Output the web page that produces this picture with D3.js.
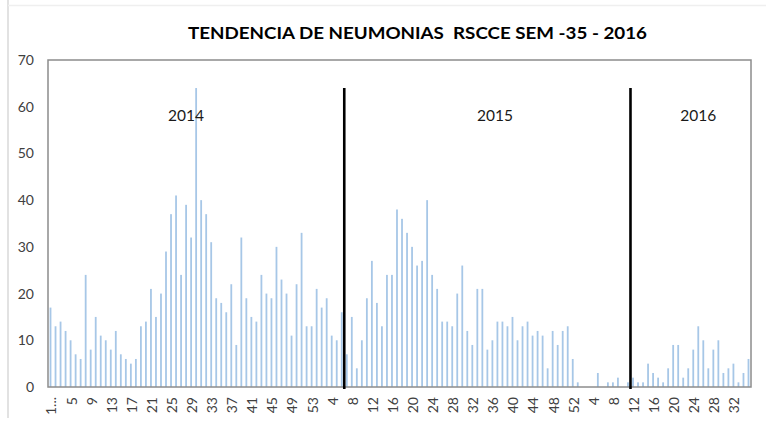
<!DOCTYPE html>
<html>
<head>
<meta charset="utf-8">
<script src="https://cdn.jsdelivr.net/npm/d3@7"></script>
<style>
  html, body { margin: 0; padding: 0; background: #fff; }
  svg { display: block; }
  text { white-space: pre; }
</style>
</head>
<body>
<svg id="chart" width="766" height="423"></svg>
<script>
// ---- Data ----
const title = "TENDENCIA DE NEUMONIAS  RSCCE SEM -35 - 2016";
const years = ["2014", "2015", "2016"];
const values2014 = [17,13,14,12,10,7,6,24,8,15, 11,10,8,12,7,6,5,6,13,14,
                    21,15,20,29,37,41,24,39,32,64, 40,37,31,19,18,16,22,9,32,19,
                    15,14,24,20,19,30,23,20,11,22, 33,13,13];
const values2015 = [21,17,19,11,10,16,7,15,4,10, 19,27,18,13,24,24,38,36,33,30,
                    26,27,40,24,21,14,14,13,20,26, 12,9,21,21,8,10,14,14,13,15,
                    10,13,14,11,12,11,4,12,9,12, 13,6];
const values2016 = [1,0,0,0,3,0,1,1,2,0, 1,2,1,1,5,3,2,1,4,9,
                    9,2,4,8,13,10,4,8,10,3, 4,5,1,3,6];
const yTicks = [0,10,20,30,40,50,60,70];
const firstTickLabel = "1...";
// year annotations placed at a week of the category axis
const yearLabels = [
  { text: "2014", year: "2014", week: 28 },
  { text: "2015", year: "2015", week: 36.5 },
  { text: "2016", year: "2016", week: 25 }
];
// separator lines drawn before these weeks, up to this value
const separators = [
  { year: "2015", week: 7, top: 64 },
  { year: "2016", week: 12, top: 64 }
];

// ---- Build rows ----
const rows = [];
[[years[0], values2014], [years[1], values2015], [years[2], values2016]].forEach(([yr, vals]) => {
  vals.forEach((v, i) => rows.push({ id: yr + "-" + (i + 1), year: yr, week: i + 1, value: v }));
});

// ---- Layout ----
const FONT = "Lato, 'Open Sans', sans-serif";
const svg = d3.select("#chart");
const W = 766, H = 423;
const plot = { left: 48, right: 751, top: 60, bottom: 387 };

const x = d3.scaleBand().domain(rows.map(d => d.id)).range([plot.left, plot.right]).padding(0);
const y = d3.scaleLinear().domain([0, 70]).range([plot.bottom, plot.top]);

// outer faint frame
svg.append("line").attr("x1", 8).attr("x2", 8).attr("y1", 0).attr("y2", 418)
  .attr("stroke", "#e2e2e2").attr("stroke-width", 2);
svg.append("line").attr("x1", 8).attr("x2", W).attr("y1", 5.5).attr("y2", 5.5)
  .attr("stroke", "#efefef").attr("stroke-width", 1.5);

// title
svg.append("text")
  .attr("x", 417.5).attr("y", 38.5)
  .attr("text-anchor", "middle")
  .attr("font-family", FONT)
  .attr("font-weight", "bold")
  .attr("font-size", 17.5)
  .attr("fill", "#000")
  .attr("textLength", 459)
  .attr("lengthAdjust", "spacingAndGlyphs")
  .text(title);

// bars
const barW = 1.8;
svg.append("g").selectAll("rect").data(rows.filter(d => d.value > 0)).join("rect")
  .attr("x", d => x(d.id) + x.bandwidth() / 2 - barW / 2)
  .attr("y", d => y(d.value))
  .attr("width", barW)
  .attr("height", d => y(0) - y(d.value))
  .attr("fill", "#a7c7e7");

// plot frame
svg.append("rect")
  .attr("x", plot.left).attr("y", plot.top)
  .attr("width", plot.right - plot.left).attr("height", plot.bottom - plot.top)
  .attr("fill", "none").attr("stroke", "#8c8c8c").attr("stroke-width", 1.5);

// y axis labels
const yAxis = d3.axisLeft(y).tickValues(yTicks).tickSize(0).tickPadding(14);
const gy = svg.append("g").attr("transform", `translate(${plot.left},0)`).call(yAxis);
gy.select(".domain").remove();
gy.selectAll("text")
  .attr("font-family", FONT)
  .attr("font-size", 14)
  .attr("fill", "#404040");

// x axis labels (every 4th category), rotated
const tickIds = rows.filter((d, i) => i % 4 === 0).map(d => d.id);
const byId = new Map(rows.map(d => [d.id, d]));
const xAxis = d3.axisBottom(x).tickValues(tickIds).tickSize(0)
  .tickFormat(id => id === rows[0].id ? firstTickLabel : String(byId.get(id).week));
const gx = svg.append("g").attr("transform", `translate(0,${plot.bottom})`).call(xAxis);
gx.select(".domain").remove();
gx.selectAll("text")
  .attr("font-family", FONT)
  .attr("font-size", 14)
  .attr("fill", "#404040")
  .attr("text-anchor", "end")
  .attr("transform", "rotate(-90)")
  .attr("x", -10)
  .attr("y", 1)
  .attr("dy", "0.35em");

// separators
svg.append("g").selectAll("line").data(separators).join("line")
  .attr("x1", d => x(d.year + "-" + d.week))
  .attr("x2", d => x(d.year + "-" + d.week))
  .attr("y1", d => y(d.top))
  .attr("y2", y(0) + 2)
  .attr("stroke", "#000")
  .attr("stroke-width", 2.6);

// year labels
const weekX = (yr, wk) => {
  const i = Math.floor(wk);
  const f = wk - i;
  return x(yr + "-" + i) + x.bandwidth() / 2 + f * x.step();
};
svg.append("g").selectAll("text").data(yearLabels).join("text")
  .attr("x", d => weekX(d.year, d.week))
  .attr("y", 121)
  .attr("text-anchor", "middle")
  .attr("font-family", FONT)
  .attr("font-size", 15.5)
  .attr("fill", "#1a1a1a")
  .text(d => d.text);
</script>
</body>
</html>
